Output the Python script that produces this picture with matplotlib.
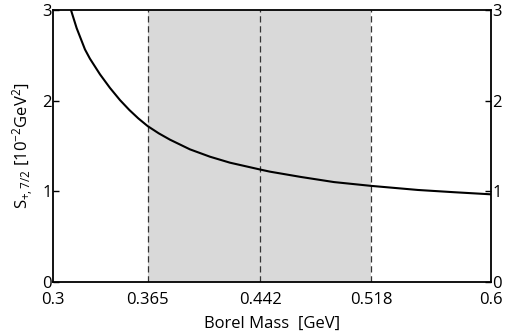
import numpy as np
import matplotlib.pyplot as plt

plt.rcParams['font.family'] = ['Open Sans', 'DejaVu Sans']
plt.rcParams['mathtext.fontset'] = 'custom'
plt.rcParams['mathtext.rm'] = 'Open Sans'
plt.rcParams['mathtext.it'] = 'Open Sans:italic'

# curve
borel_mass = [0.3123, 0.3162, 0.3219, 0.3253, 0.3322, 0.3390, 0.3459, 0.3523,
              0.3584, 0.3648, 0.3724, 0.3801, 0.3938, 0.4075, 0.4212, 0.442,
              0.4486, 0.47, 0.4925, 0.518, 0.55, 0.575, 0.6]
s_val = [3.0, 2.80, 2.565, 2.463, 2.29, 2.141, 2.006, 1.897,
         1.805, 1.72, 1.64, 1.57, 1.463, 1.382, 1.316, 1.24,
         1.217, 1.158, 1.102, 1.06, 1.015, 0.99, 0.967]

window_lo = 0.365
window_mid = 0.442
window_hi = 0.518

xticks = [0.3, 0.365, 0.442, 0.518, 0.6]
xtick_labels = ['0.3', '0.365', '0.442', '0.518', '0.6']
yticks = [0, 1, 2, 3]

fig = plt.figure(figsize=(5.06, 3.36), dpi=100)
ax = fig.add_axes([53/506, 1 - 282/336, 438/506, 272/336])

ax.axvspan(window_lo, window_hi, color='#d9d9d9', lw=0)
for xv in [window_lo, window_mid, window_hi]:
    ax.axvline(xv, color='#333333', lw=0.9, ls=(0, (5, 3)))
ax.plot(borel_mass, s_val, color='black', lw=1.5, solid_joinstyle='round')

ax.set_xlim(0.3, 0.6)
ax.set_ylim(0, 3)
ax.set_xticks(xticks)
ax.set_xticklabels(xtick_labels)
ax.set_yticks(yticks)
ax.tick_params(direction='in', length=4, width=1, labelsize=12,
               right=True, labelright=True, bottom=False)
ax.tick_params(axis='x', pad=7)
ax.tick_params(axis='y', pad=1)
for sp in ax.spines.values():
    sp.set_linewidth(1.3)

ax.set_xlabel('Borel Mass  [GeV]', fontsize=12, labelpad=6)
ax.set_ylabel(r'S$_{+,7/2}$ [10$^{-2}$GeV$^{2}$]', fontsize=12, labelpad=4)

fig.savefig('out.png', dpi=100)
